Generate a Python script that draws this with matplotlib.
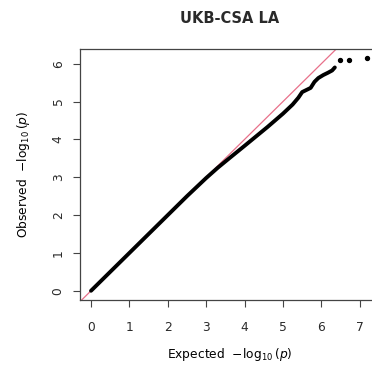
import matplotlib
matplotlib.use('Agg')
import matplotlib.pyplot as plt

# QQ plot values
expected = [0.0, 0.5, 1.0, 1.5, 2.0, 2.5, 3.0, 3.3, 3.6, 4.0, 4.3, 4.6, 5.0,
            5.25, 5.4, 5.5, 5.62, 5.72, 5.82, 5.92, 6.05, 6.17, 6.28, 6.35]
observed = [0.0, 0.5, 1.0, 1.5, 2.0, 2.5, 2.98, 3.25, 3.5, 3.83, 4.08, 4.33, 4.68,
            4.92, 5.1, 5.25, 5.31, 5.36, 5.52, 5.62, 5.7, 5.76, 5.82, 5.9]
tail_expected = [6.48, 6.72, 7.19]
tail_observed = [6.11, 6.11, 6.14]

txt = '#2a2a2a'
plt.rcParams.update({'font.family': 'DejaVu Sans',
                     'font.size': 8.8,
                     'text.color': txt,
                     'axes.edgecolor': '#444444',
                     'xtick.color': '#444444',
                     'ytick.color': '#444444',
                     'xtick.labelcolor': txt,
                     'ytick.labelcolor': txt})

fig = plt.figure(figsize=(3.72, 3.70), dpi=100)
ax = fig.add_axes([0.215, 0.189, 0.8025, 0.6784])

ax.axline((0, 0), slope=1, color='#e8708a', lw=0.9, zorder=1)
ax.plot(expected, observed, color='black', lw=2.8, solid_capstyle='round', zorder=2)
ax.scatter(tail_expected, tail_observed, s=8, color='black', zorder=3)

ax.set_xlim(-0.288, 7.488)
ax.set_ylim(-0.246, 6.386)
ax.set_xticks(range(0, 8))
ax.set_yticks(range(0, 7))
ax.tick_params(length=5, width=0.8)
ax.tick_params(axis='x', pad=10)
ax.tick_params(axis='y', pad=6)
for lab in ax.get_yticklabels():
    lab.set_rotation(90)
    lab.set_va('center')

ax.spines['right'].set_visible(False)
for s in ['left', 'bottom', 'top']:
    ax.spines[s].set_linewidth(0.9)

ax.set_xlabel(r'Expected  $-\log_{10}(p)$', labelpad=9)
ax.set_ylabel(r'Observed  $-\log_{10}(p)$', labelpad=14)
fig.text(0.618, 0.951, 'UKB-CSA LA', ha='center', va='center',
         fontsize=10.5, fontweight='bold')

fig.savefig('out.png', dpi=100)
